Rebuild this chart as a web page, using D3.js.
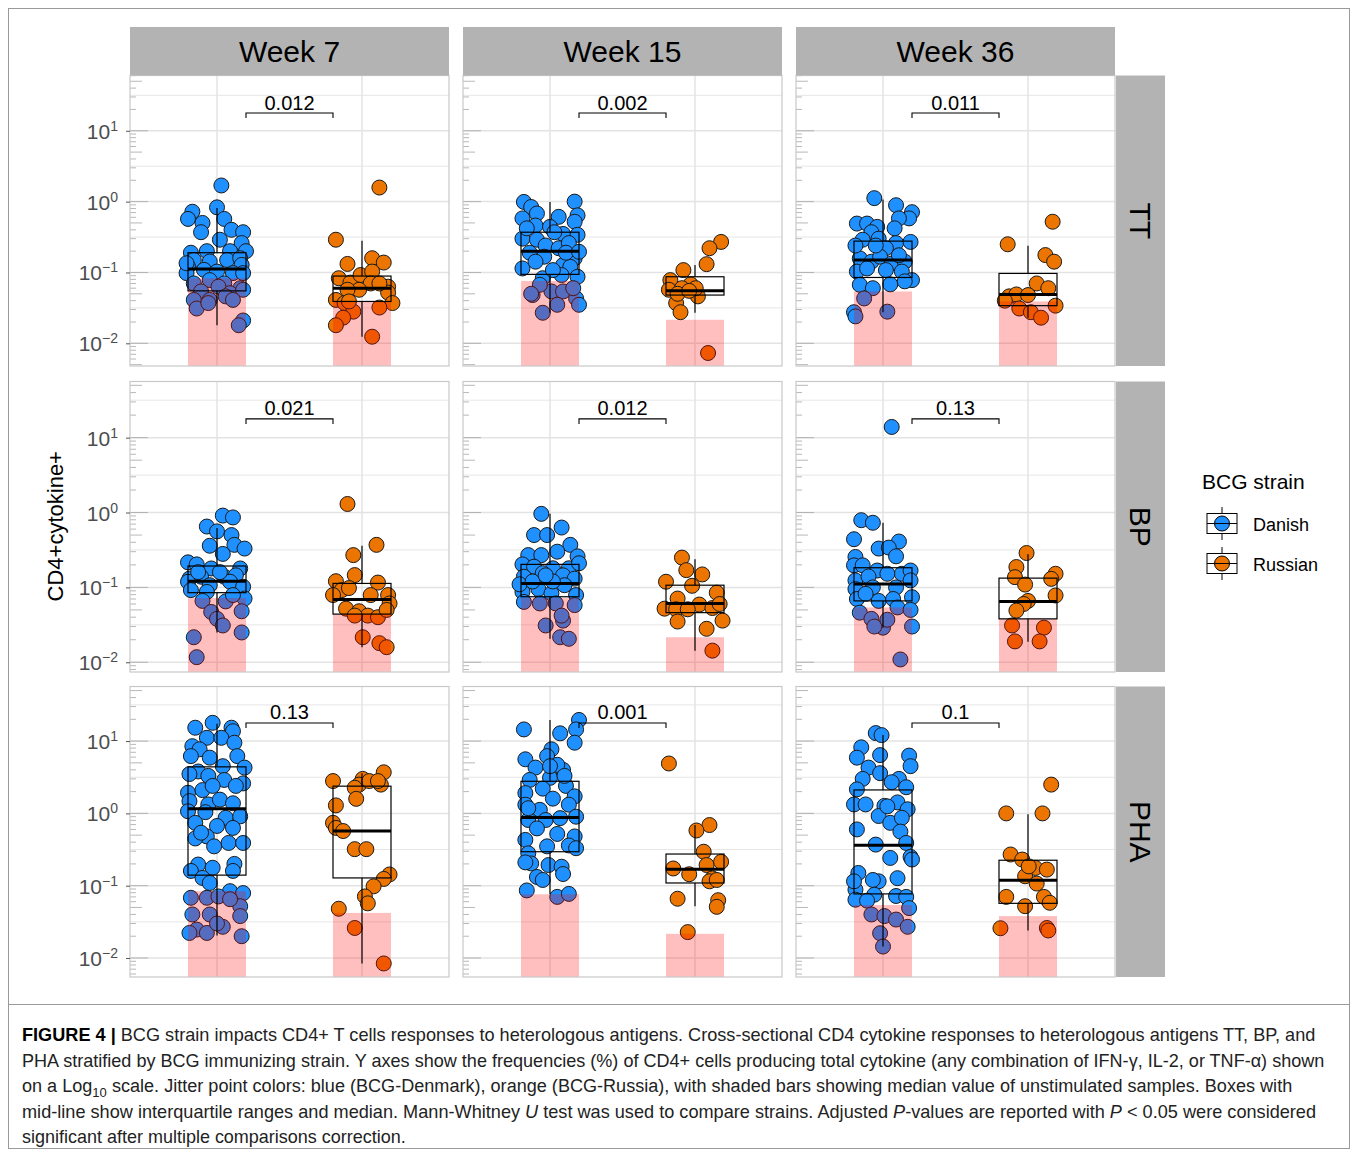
<!DOCTYPE html>
<html>
<head>
<meta charset="utf-8">
<script src="https://cdn.jsdelivr.net/npm/d3@7"></script>
<style>
  body { margin: 0; background: #fff; }
  svg { display: block; font-family: "Liberation Sans", Arial, sans-serif; }
</style>
</head>
<body>
<div id="chart"></div>
<script>
// Facets and groups
const weeks = ["Week 7", "Week 15", "Week 36"];
const antigens = ["TT", "BP", "PHA"];
const strains = ["Danish", "Russian"];
const strainColors = ["#1E90FF", "#EC7400"];

// Free y scales: log10 limits per antigen row
const rowLogLimits = [[-2.32, 1.78], [-2.13, 1.75], [-2.263, 1.755]];
const yTickPowers = [-2, -1, 0, 1];

// Adjusted p-values, rows TT/BP/PHA, columns week 7/15/36
const pTT = ["0.012", "0.002", "0.011"];
const pBP = ["0.021", "0.012", "0.13"];
const pPHA = ["0.13", "0.001", "0.1"];
const bracketValue = 17.8;

// Median of unstimulated samples (shaded bars), [Danish, Russian] per week
const unstimTT = [[0.083, 0.039], [0.076, 0.0215], [0.054, 0.039]];
const unstimBP = [[0.072, 0.044], [0.072, 0.0216], [0.054, 0.038]];
const unstimPHA = [[0.084, 0.042], [0.076, 0.0216], [0.054, 0.038]];

// Boxplot stats [whisker low, Q1, median, Q3, whisker high], [Danish, Russian] per week
const boxTT = [
  [[0.018, 0.055, 0.112, 0.19, 0.81], [0.0124, 0.039, 0.060, 0.089, 0.28]],
  [[0.027, 0.094, 0.20, 0.37, 0.99], [0.027, 0.048, 0.055, 0.087, 0.127]],
  [[0.0275, 0.085, 0.15, 0.277, 1.07], [0.023, 0.034, 0.049, 0.097, 0.238]]
];
const boxBP = [
  [[0.025, 0.085, 0.121, 0.193, 0.62], [0.0159, 0.044, 0.069, 0.113, 0.36]],
  [[0.0206, 0.075, 0.113, 0.203, 0.96], [0.0143, 0.046, 0.061, 0.107, 0.237]],
  [[0.029, 0.066, 0.111, 0.183, 0.73], [0.0188, 0.038, 0.065, 0.133, 0.277]]
];
const boxPHA = [
  [[0.0204, 0.14, 1.16, 4.4, 17.4], [0.0084, 0.128, 0.57, 2.38, 3.6]],
  [[0.077, 0.295, 0.88, 2.78, 19.6], [0.052, 0.109, 0.169, 0.274, 0.69]],
  [[0.0144, 0.077, 0.363, 2.11, 12.1], [0.024, 0.057, 0.119, 0.225, 0.97]]
];

// Jittered points: [jitter offset (category units), % CD4+cytokine+]
const ttW7Dan = [[0.03,1.69],[-0.17,0.72],[0,0.83],[-0.2,0.57],[-0.1,0.5],[0.05,0.57],[-0.11,0.37],[0.1,0.4],[0.18,0.37],[0.02,0.29],[0.17,0.26],[0.2,0.2],[-0.18,0.19],[-0.07,0.2],[0.09,0.2],[-0.16,0.15],[-0.05,0.143],[0.07,0.15],[0.16,0.159],[-0.2,0.121],[-0.09,0.109],[0,0.103],[0.17,0.128],[-0.21,0.098],[0.11,0.098],[0.18,0.098],[-0.16,0.07],[-0.05,0.078],[0.05,0.07],[0.16,0.06],[-0.11,0.054],[0.01,0.063],[0.09,0.051],[0.18,0.057],[-0.16,0.041],[-0.05,0.041],[0.06,0.046],[0.11,0.041],[-0.14,0.031],[0.18,0.021],[0.15,0.018],[-0.06,0.037],[-0.21,0.135]];
const ttW7Rus = [[0.12,1.58],[-0.18,0.29],[-0.1,0.132],[0.07,0.159],[0.15,0.138],[-0.16,0.083],[-0.08,0.072],[-0.01,0.092],[0.07,0.103],[0.06,0.07],[0.18,0.063],[-0.02,0.057],[-0.1,0.057],[0.18,0.052],[0.12,0.07],[-0.18,0.041],[-0.12,0.037],[0.21,0.037],[0.12,0.032],[-0.06,0.028],[-0.13,0.023],[-0.18,0.018],[0.07,0.0124],[-0.09,0.039]];
const ttW15Dan = [[-0.18,0.99],[0.17,1.0],[-0.13,0.84],[-0.09,0.68],[-0.19,0.58],[0.06,0.61],[0.19,0.64],[0.17,0.52],[-0.1,0.46],[0,0.44],[-0.19,0.3],[-0.09,0.29],[0.09,0.35],[0.19,0.34],[-0.03,0.24],[0.06,0.22],[0.13,0.26],[-0.14,0.19],[-0.04,0.167],[0.17,0.158],[-0.19,0.114],[0.09,0.127],[0.14,0.12],[-0.05,0.083],[0.08,0.092],[0.19,0.087],[-0.12,0.048],[0.01,0.054],[0.09,0.054],[0.18,0.043],[0.05,0.035],[-0.05,0.027],[0.2,0.035],[-0.07,0.067],[0.02,0.108],[-0.16,0.42],[0.11,0.19],[-0.1,0.142],[0.2,0.196],[0.03,0.37],[0.16,0.06],[-0.13,0.05]];
const ttW15Rus = [[0.18,0.27],[0.1,0.22],[0.08,0.131],[-0.08,0.108],[-0.17,0.078],[-0.03,0.068],[-0.18,0.057],[-0.09,0.06],[0.02,0.046],[-0.13,0.037],[-0.1,0.0275],[0.09,0.0073],[-0.12,0.05],[0.005,0.06],[-0.04,0.055]];
const ttW36Dan = [[-0.06,1.12],[0.09,0.89],[0.2,0.71],[0.18,0.58],[-0.18,0.49],[-0.11,0.49],[-0.04,0.44],[0.11,0.58],[-0.08,0.37],[0.08,0.42],[-0.14,0.29],[-0.03,0.3],[0.09,0.26],[0.19,0.27],[0.02,0.22],[-0.16,0.158],[-0.08,0.142],[-0.02,0.167],[0.06,0.134],[0.15,0.142],[-0.18,0.103],[-0.11,0.114],[0.02,0.108],[0.13,0.103],[0.2,0.078],[-0.16,0.067],[-0.07,0.06],[0.05,0.068],[0.15,0.075],[-0.13,0.043],[-0.2,0.0275],[-0.19,0.024],[0.03,0.028],[-0.05,0.24],[0.11,0.175],[-0.19,0.24]];
const ttW36Rus = [[0.17,0.52],[-0.14,0.25],[0.12,0.176],[0.18,0.142],[0.06,0.07],[0.14,0.06],[-0.13,0.046],[-0.08,0.049],[0,0.048],[0.19,0.034],[-0.06,0.031],[0.02,0.0275],[0.09,0.023],[-0.16,0.04]];

const bpW7Dan = [[0.04,0.91],[0.11,0.86],[-0.07,0.65],[0,0.56],[0.1,0.5],[-0.05,0.36],[0.12,0.37],[0.19,0.33],[0.04,0.28],[-0.2,0.216],[-0.14,0.203],[-0.04,0.179],[0.16,0.179],[-0.19,0.131],[-0.11,0.139],[0.05,0.139],[0.13,0.145],[-0.2,0.119],[-0.05,0.107],[0.09,0.119],[0.18,0.102],[-0.18,0.092],[-0.07,0.087],[0.19,0.071],[0.06,0.065],[-0.1,0.066],[0.17,0.048],[-0.04,0.047],[0,0.038],[0.04,0.031],[0.17,0.025],[-0.16,0.0216],[-0.14,0.0117],[0.11,0.079],[0.02,0.16],[-0.13,0.16]];
const bpW7Rus = [[-0.1,1.3],[0.1,0.37],[-0.06,0.27],[-0.05,0.146],[-0.18,0.121],[0.11,0.116],[-0.14,0.092],[-0.09,0.098],[0.18,0.079],[0.06,0.079],[-0.2,0.079],[0.19,0.061],[-0.11,0.052],[-0.02,0.048],[0.04,0.042],[0.11,0.04],[-0.05,0.042],[0.005,0.0216],[0.12,0.018],[0.17,0.0159],[0.17,0.05]];
const bpW15Dan = [[-0.06,0.96],[0.08,0.63],[-0.11,0.5],[-0.02,0.5],[0.14,0.37],[-0.15,0.27],[-0.06,0.27],[0.05,0.3],[0.19,0.26],[-0.19,0.203],[-0.11,0.189],[0.02,0.18],[0.13,0.18],[0.2,0.21],[-0.18,0.139],[-0.05,0.155],[0.09,0.145],[0.17,0.131],[-0.19,0.087],[-0.08,0.095],[0.01,0.083],[0.1,0.107],[0.18,0.079],[-0.18,0.064],[-0.07,0.061],[0.04,0.061],[0.17,0.058],[0.09,0.036],[-0.03,0.031],[0.07,0.0216],[0.13,0.0206],[-0.21,0.11],[-0.12,0.12],[0.02,0.12],[0.08,0.042],[-0.03,0.145]];
const bpW15Rus = [[-0.09,0.25],[-0.06,0.17],[0.05,0.149],[-0.2,0.119],[-0.02,0.105],[0.15,0.085],[-0.12,0.071],[0.03,0.059],[0.12,0.053],[-0.21,0.052],[-0.13,0.051],[-0.05,0.051],[0.19,0.036],[0.08,0.028],[-0.12,0.035],[0.12,0.0143],[0.17,0.06]];
const bpW36Dan = [[0.06,13.9],[-0.15,0.79],[-0.07,0.73],[-0.2,0.44],[0.11,0.41],[-0.03,0.33],[0.04,0.34],[0.09,0.26],[-0.19,0.255],[-0.2,0.197],[-0.14,0.197],[-0.04,0.168],[0.13,0.152],[0.19,0.168],[-0.19,0.124],[-0.1,0.14],[0.03,0.152],[0.19,0.124],[-0.19,0.095],[-0.07,0.1],[0.09,0.1],[-0.18,0.07],[-0.03,0.066],[0.07,0.07],[0.2,0.074],[-0.16,0.046],[-0.08,0.038],[0,0.029],[-0.06,0.03],[0.1,0.054],[0.2,0.03],[0.03,0.037],[0.12,0.0109],[-0.12,0.082],[0.19,0.05]];
const bpW36Rus = [[-0.01,0.288],[-0.08,0.187],[-0.09,0.137],[0.19,0.152],[0.16,0.13],[-0.02,0.109],[0.19,0.078],[0,0.066],[-0.03,0.06],[-0.08,0.049],[-0.11,0.031],[0.11,0.029],[-0.09,0.019],[0.08,0.019]];

const phaW7Dan = [[-0.03,17.9],[-0.15,15.3],[0.1,15.3],[0.11,13.7],[-0.07,11.1],[0.03,11.1],[-0.17,8.5],[-0.12,7.7],[0.12,9.5],[-0.05,5.9],[-0.18,6.2],[0.14,6.2],[0.19,4.3],[-0.13,3.8],[0.04,4.5],[-0.19,3.5],[-0.06,3.3],[0.05,2.9],[0.18,2.6],[-0.2,1.93],[-0.1,2.1],[-0.03,2.4],[0.13,2.4],[-0.19,1.48],[-0.06,1.33],[0.02,1.55],[0.11,1.38],[-0.2,1.07],[-0.08,1.04],[0.06,0.87],[0.16,0.91],[-0.15,0.74],[0,0.67],[0.11,0.63],[-0.07,0.48],[-0.15,0.45],[0.08,0.39],[0.18,0.39],[-0.02,0.35],[-0.13,0.196],[-0.03,0.177],[-0.18,0.16],[0.12,0.2],[0.11,0.16],[-0.1,0.128],[-0.05,0.109],[0.09,0.084],[0.18,0.079],[-0.18,0.068],[-0.07,0.068],[0.01,0.071],[0.16,0.052],[-0.17,0.04],[-0.05,0.04],[0.16,0.038],[-0.14,0.0247],[-0.19,0.0222],[-0.07,0.0222],[0.04,0.027],[0,0.03],[0.17,0.02],[0.09,0.065],[-0.11,0.54]];
const phaW7Rus = [[0.15,3.7],[-0.2,2.8],[0.005,3.0],[-0.02,2.5],[0.13,2.5],[0.05,2.8],[0.11,2.8],[-0.05,2.26],[-0.04,1.59],[-0.18,1.29],[-0.2,0.74],[-0.18,0.63],[-0.13,0.57],[-0.05,0.32],[0.03,0.32],[0.19,0.143],[0.15,0.124],[0.08,0.098],[0.02,0.071],[0.04,0.057],[-0.16,0.048],[-0.05,0.026],[0.15,0.0084]];
const phaW15Dan = [[-0.18,14.5],[0.2,19.6],[0.18,14.5],[0.07,12.8],[0.17,9.5],[0.01,7.7],[-0.17,5.6],[-0.02,6.2],[-0.1,4.3],[0.09,4.0],[0.05,4.7],[0,3.1],[-0.14,2.9],[0.11,2.4],[-0.17,1.91],[-0.05,2.2],[0.17,1.72],[-0.17,1.32],[0.02,1.6],[-0.07,1.12],[0.13,1.32],[-0.15,0.81],[-0.03,0.81],[0.07,0.86],[0.18,0.9],[-0.09,0.62],[0.05,0.52],[0.17,0.48],[-0.17,0.43],[-0.02,0.35],[0.13,0.36],[0.18,0.33],[-0.15,0.28],[-0.13,0.203],[-0.01,0.193],[0.08,0.183],[-0.17,0.21],[-0.09,0.132],[-0.05,0.12],[0.09,0.145],[-0.16,0.086],[0.05,0.07],[0.13,0.077],[-0.15,1.18],[0,4.5],[0.1,3.3]];
const phaW15Rus = [[-0.18,4.9],[0.1,0.69],[0.01,0.58],[0.06,0.295],[-0.15,0.173],[-0.04,0.144],[0.08,0.193],[0.18,0.214],[0.12,0.126],[0.1,0.115],[-0.12,0.066],[0.16,0.063],[0.15,0.051],[-0.05,0.0228],[0.15,0.12]];
const phaW36Dan = [[-0.05,12.9],[-0.01,12.1],[-0.15,8.2],[-0.18,5.9],[-0.02,6.4],[0.18,6.3],[0.19,4.5],[-0.1,4.3],[-0.14,3.0],[-0.02,3.6],[0.11,3.0],[0.06,2.7],[0.16,2.3],[-0.18,2.15],[-0.2,1.33],[-0.12,1.33],[0.01,1.27],[0.1,1.42],[0.17,1.14],[-0.03,0.92],[0.05,0.74],[0.13,0.87],[-0.18,0.6],[0.12,0.56],[-0.05,0.37],[0.16,0.39],[0.05,0.242],[0.19,0.25],[-0.17,0.15],[-0.03,0.115],[0.1,0.127],[-0.07,0.12],[-0.19,0.088],[-0.06,0.075],[0.09,0.072],[0.16,0.07],[-0.19,0.064],[-0.11,0.062],[0.18,0.049],[-0.08,0.04],[0.01,0.038],[0.09,0.034],[0.17,0.027],[-0.02,0.022],[0,0.0144],[0.2,0.23],[-0.2,0.115],[0.03,1.25]];
const phaW36Rus = [[0.16,2.5],[-0.15,1.0],[0.1,1.0],[-0.12,0.27],[-0.04,0.23],[0.05,0.176],[0.13,0.167],[-0.02,0.135],[0.06,0.107],[-0.15,0.07],[-0.02,0.052],[0.11,0.07],[0.15,0.058],[-0.19,0.0258],[0.13,0.026],[0.14,0.024],[0.005,0.185]];

// Caption lines: [text, style] runs
const captionLines = [
  [["FIGURE 4 |", "b"], [" BCG strain impacts CD4+ T cells responses to heterologous antigens. Cross-sectional CD4 cytokine responses to heterologous antigens TT, BP, and"]],
  [["PHA stratified by BCG immunizing strain. Y axes show the frequencies (%) of CD4+ cells producing total cytokine (any combination of IFN-\u03B3, IL-2, or TNF-\u03B1) shown"]],
  [["on a Log"], ["10", "sub"], [" scale. Jitter point colors: blue (BCG-Denmark), orange (BCG-Russia), with shaded bars showing median value of unstimulated samples. Boxes with", "up"]],
  [["mid-line show interquartile ranges and median. Mann-Whitney "], ["U", "i"], [" test was used to compare strains. Adjusted "], ["P", "i"], ["-values are reported with "], ["P", "i"], [" < 0.05 were considered"]],
  [["significant after multiple comparisons correction."]]
];
const captionWidths = [1294, 1304, 1271, 1295, 384];

/************************************
 * Lookups built from the arrays
 ************************************/
const points = {
  TT: [[ttW7Dan, ttW7Rus], [ttW15Dan, ttW15Rus], [ttW36Dan, ttW36Rus]],
  BP: [[bpW7Dan, bpW7Rus], [bpW15Dan, bpW15Rus], [bpW36Dan, bpW36Rus]],
  PHA: [[phaW7Dan, phaW7Rus], [phaW15Dan, phaW15Rus], [phaW36Dan, phaW36Rus]]
};
const boxes = { TT: boxTT, BP: boxBP, PHA: boxPHA };
const unstim = { TT: unstimTT, BP: unstimBP, PHA: unstimPHA };
const pvals = { TT: pTT, BP: pBP, PHA: pPHA };

/************************************
 * Layout
 ************************************/
const W = 1358, H = 1155;
const panelX = [130, 463, 796], panelW = 319;
const panelY = [75.5, 381.5, 686.5], panelH = 290.5;
const stripTop = 27, stripRightX = 1116, stripRightW = 49;
const gridColor = "#e3e3e3";

const svg = d3.select("#chart")
  .append("svg")
  .attr("width", W)
  .attr("height", H);

svg.append("rect").attr("width", W).attr("height", H).attr("fill", "#fff");

// figure frame, with the caption box below the plot
svg.append("rect")
  .attr("x", 8.5).attr("y", 8.5)
  .attr("width", W - 17).attr("height", H - 15)
  .attr("fill", "none")
  .attr("stroke", "#9a9a9a");
svg.append("line")
  .attr("x1", 8.5).attr("x2", W - 8.5)
  .attr("y1", 1004.5).attr("y2", 1004.5)
  .attr("stroke", "#9a9a9a");

const x = d3.scalePoint().domain(strains).range([0, panelW]).padding(0.6);
const step = x.step();

const superLabel = (sel, p) => {
  sel.append("tspan").text("10");
  sel.append("tspan")
    .attr("dy", -8)
    .attr("font-size", 14)
    .text(p < 0 ? "\u2212" + Math.abs(p) : p);
};

/************************************
 * Panels
 ************************************/
antigens.forEach((ag, r) => {
  const lim = rowLogLimits[r];
  const y = d3.scaleLog()
    .domain([10 ** lim[0], 10 ** lim[1]])
    .range([panelH, 0]);

  const majors = yTickPowers.map(p => 10 ** p);
  const minors = d3.range(Math.floor(lim[0]), Math.ceil(lim[1]))
    .map(p => 10 ** (p + 0.5))
    .filter(v => v >= y.domain()[0] && v <= y.domain()[1]);
  const logTicks = [];
  d3.range(Math.floor(lim[0]), Math.ceil(lim[1]) + 1).forEach(p => {
    d3.range(1, 10).forEach(m => {
      const v = m * 10 ** p;
      if (v >= y.domain()[0] && v <= y.domain()[1]) logTicks.push({ v, m });
    });
  });

  weeks.forEach((wk, c) => {
    const g = svg.append("g")
      .attr("transform", `translate(${panelX[c]},${panelY[r]})`);

    // grid
    g.selectAll(".gminor").data(minors).enter().append("line")
      .attr("x1", 0).attr("x2", panelW)
      .attr("y1", d => y(d)).attr("y2", d => y(d))
      .attr("stroke", gridColor).attr("stroke-width", 0.9);
    g.selectAll(".gmajor").data(majors).enter().append("line")
      .attr("x1", 0).attr("x2", panelW)
      .attr("y1", d => y(d)).attr("y2", d => y(d))
      .attr("stroke", gridColor).attr("stroke-width", 1.5);
    g.selectAll(".gx").data(strains).enter().append("line")
      .attr("x1", d => x(d)).attr("x2", d => x(d))
      .attr("y1", 0).attr("y2", panelH)
      .attr("stroke", gridColor).attr("stroke-width", 1.5);

    // log ticks along the left edge
    g.selectAll(".lt").data(logTicks).enter().append("line")
      .attr("x1", 0)
      .attr("x2", d => d.m === 1 ? 18 : d.m === 5 ? 12 : 6)
      .attr("y1", d => y(d.v)).attr("y2", d => y(d.v))
      .attr("stroke", "#a6a6a6").attr("stroke-width", 0.8);

    // jittered points
    strains.forEach((s, i) => {
      g.selectAll(".pt" + i).data(points[ag][c][i]).enter().append("circle")
        .attr("cx", d => x(s) + d[0] * step)
        .attr("cy", d => y(d[1]))
        .attr("r", 7.5)
        .attr("fill", strainColors[i])
        .attr("stroke", "#1a1a1a")
        .attr("stroke-width", 1);
    });

    // shaded bars: median of unstimulated samples
    g.selectAll(".bar").data(unstim[ag][c]).enter().append("rect")
      .attr("x", (d, i) => x(strains[i]) - 0.2 * step)
      .attr("width", 0.4 * step)
      .attr("y", d => y(d))
      .attr("height", d => panelH - y(d))
      .attr("fill", "#ff0000")
      .attr("fill-opacity", 0.25);

    // boxplots
    boxes[ag][c].forEach((b, i) => {
      const cx = x(strains[i]);
      const bg = g.append("g").attr("stroke", "#000").attr("fill", "none");
      bg.append("line").attr("x1", cx).attr("x2", cx)
        .attr("y1", y(b[4])).attr("y2", y(b[3])).attr("stroke-width", 1.2);
      bg.append("line").attr("x1", cx).attr("x2", cx)
        .attr("y1", y(b[1])).attr("y2", y(b[0])).attr("stroke-width", 1.2);
      bg.append("rect")
        .attr("x", cx - 0.2 * step).attr("width", 0.4 * step)
        .attr("y", y(b[3])).attr("height", y(b[1]) - y(b[3]))
        .attr("stroke-width", 1.2);
      bg.append("line")
        .attr("x1", cx - 0.2 * step).attr("x2", cx + 0.2 * step)
        .attr("y1", y(b[2])).attr("y2", y(b[2]))
        .attr("stroke-width", 3);
    });

    // significance bracket
    const bx1 = x(strains[0]) + 0.2 * step, bx2 = x(strains[1]) - 0.2 * step;
    const by = y(bracketValue);
    g.append("path")
      .attr("d", `M${bx1},${by + 5}V${by}H${bx2}V${by + 5}`)
      .attr("fill", "none").attr("stroke", "#000").attr("stroke-width", 1.1);
    g.append("text")
      .attr("x", (bx1 + bx2) / 2).attr("y", by - 3.5)
      .attr("text-anchor", "middle")
      .attr("font-size", 20)
      .text(pvals[ag][c]);

    // panel border
    g.append("rect")
      .attr("width", panelW).attr("height", panelH)
      .attr("fill", "none").attr("stroke", "#c8c8c8").attr("stroke-width", 1.2);

    // y axis on first column
    if (c === 0) {
      const ax = g.append("g")
        .call(d3.axisLeft(y).tickValues(majors).tickSize(4).tickFormat(""));
      ax.select(".domain").remove();
      ax.selectAll(".tick line").attr("stroke", "#555");
      ax.selectAll(".tick").each(function (d) {
        d3.select(this).append("text")
          .attr("x", -12).attr("y", 7.5)
          .attr("text-anchor", "end")
          .attr("font-size", 21)
          .attr("fill", "#4d4d4d")
          .call(superLabel, Math.round(Math.log10(d)));
      });
    }
  });

  // right strip
  svg.append("rect")
    .attr("x", stripRightX).attr("y", panelY[r])
    .attr("width", stripRightW).attr("height", panelH)
    .attr("fill", "#b3b3b3");
  svg.append("text")
    .attr("transform", `translate(${stripRightX + stripRightW / 2},${panelY[r] + panelH / 2}) rotate(90)`)
    .attr("text-anchor", "middle")
    .attr("dy", "0.35em")
    .attr("font-size", 30)
    .text(ag);
});

// top strips
weeks.forEach((wk, c) => {
  svg.append("rect")
    .attr("x", panelX[c]).attr("y", stripTop)
    .attr("width", panelW).attr("height", panelY[0] - stripTop)
    .attr("fill", "#b3b3b3");
  svg.append("text")
    .attr("x", panelX[c] + panelW / 2).attr("y", (stripTop + panelY[0]) / 2)
    .attr("dy", "0.35em")
    .attr("text-anchor", "middle")
    .attr("font-size", 30)
    .text(wk);
});

// y axis title
svg.append("text")
  .attr("transform", `translate(63,${(panelY[0] + panelY[2] + panelH) / 2}) rotate(-90)`)
  .attr("text-anchor", "middle")
  .attr("font-size", 22)
  .text("CD4+cytokine+");

/************************************
 * Legend
 ************************************/
const legend = svg.append("g").attr("transform", "translate(1202,0)");
legend.append("text")
  .attr("x", 0).attr("y", 489)
  .attr("font-size", 21)
  .text("BCG strain");
strains.forEach((s, i) => {
  const cy = 523.5 + i * 40;
  const k = legend.append("g").attr("stroke", "#000");
  k.append("line").attr("x1", 20).attr("x2", 20)
    .attr("y1", cy - 16.5).attr("y2", cy + 16.5);
  k.append("rect")
    .attr("x", 5).attr("y", cy - 10)
    .attr("width", 30).attr("height", 20)
    .attr("fill", "#fff");
  k.append("line").attr("x1", 5).attr("x2", 35)
    .attr("y1", cy).attr("y2", cy);
  k.append("circle")
    .attr("cx", 20).attr("cy", cy).attr("r", 7.5)
    .attr("fill", strainColors[i]);
  k.append("line").attr("x1", 12.5).attr("x2", 27.5)
    .attr("y1", cy).attr("y2", cy);
  legend.append("text")
    .attr("x", 51).attr("y", cy + 7)
    .attr("font-size", 18)
    .text(s);
});

/************************************
 * Caption
 ************************************/
captionLines.forEach((runs, li) => {
  const t = svg.append("text")
    .attr("font-size", 18)
    .attr("fill", "#222");
  runs.forEach(([txt, st]) => {
    const ts = t.append("tspan").text(txt);
    if (st === "b") ts.attr("font-weight", "bold").attr("fill", "#000");
    if (st === "i") ts.attr("font-style", "italic");
    if (st === "sub") ts.attr("font-size", 13).attr("dy", 5);
    if (st === "up") ts.attr("dy", -5);
  });
  const natural = t.node().getComputedTextLength();
  t.attr("transform", `translate(22,${1041 + li * 25.5}) scale(${captionWidths[li] / natural},1)`);
});
</script>
</body>
</html>
